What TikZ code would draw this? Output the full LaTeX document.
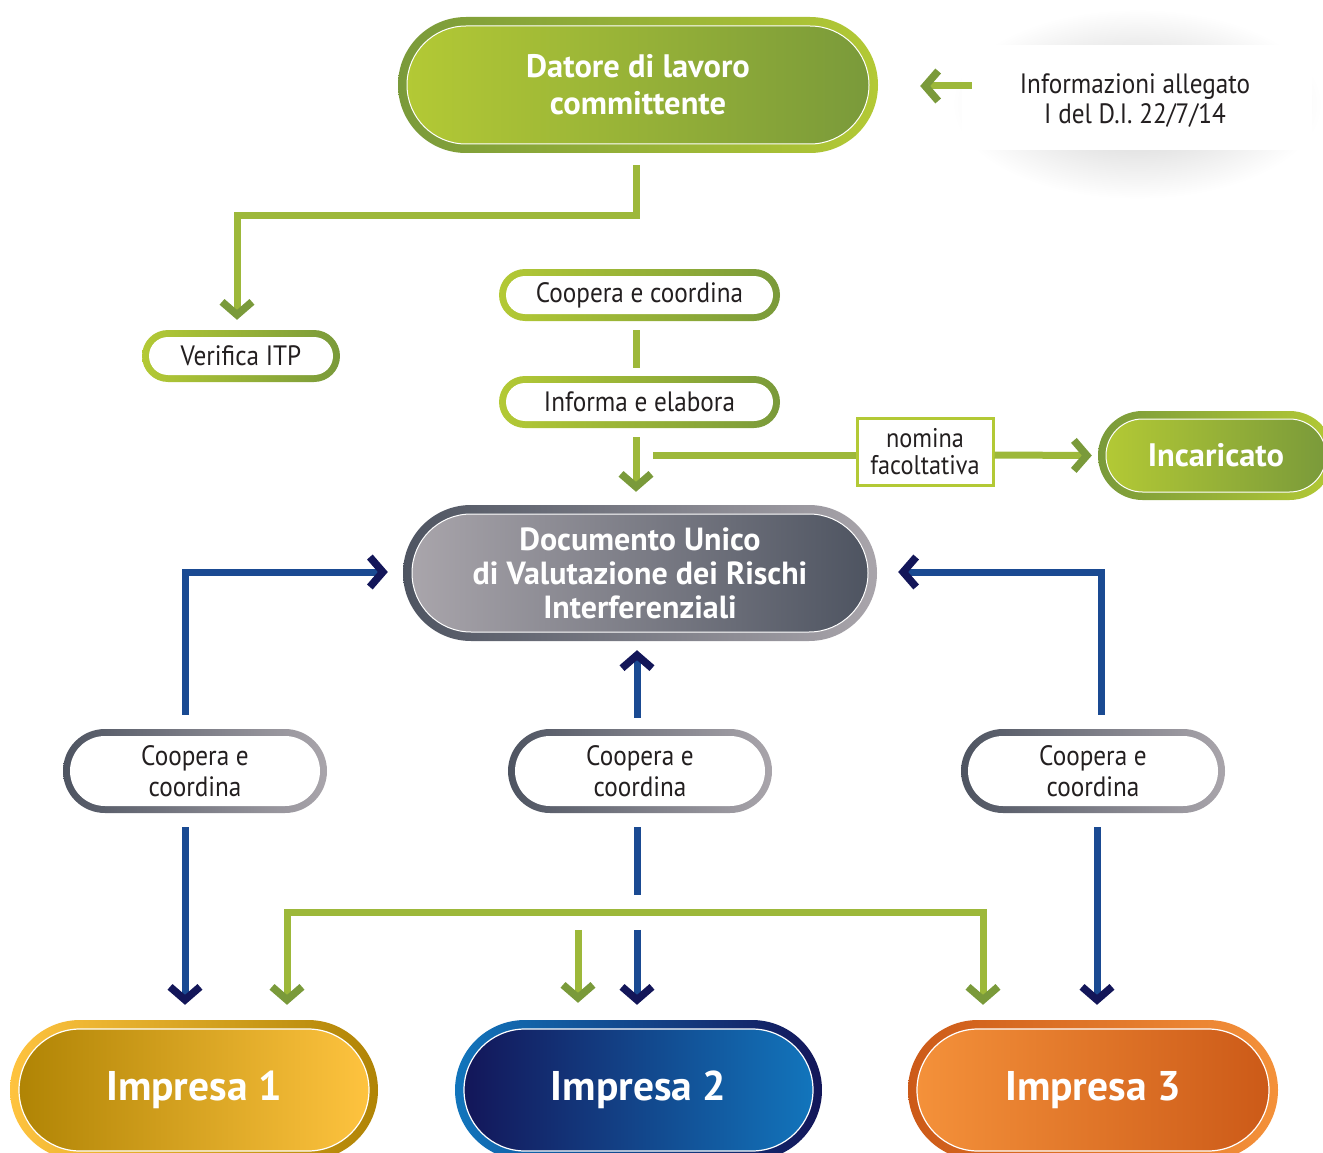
\documentclass[tikz,border=0pt]{standalone}
\usepackage{fontspec}
\setmainfont{PT Sans}
\newfontfamily\regf{PT Sans}[FakeStretch=0.9]
\usetikzlibrary{arrows.meta,shapes.misc,calc}

\definecolor{gl}{HTML}{B3C935}
\definecolor{gd}{HTML}{7A9A3A}
\definecolor{gm}{HTML}{9DB83A}
\definecolor{grl}{HTML}{A9A5AB}
\definecolor{grd}{HTML}{4E5461}
\definecolor{bl}{HTML}{1275BC}
\definecolor{bd}{HTML}{131659}
\definecolor{bm}{HTML}{1A4A92}
\definecolor{yl}{HTML}{FEC33F}
\definecolor{yd}{HTML}{B08405}
\definecolor{ol}{HTML}{F4913A}
\definecolor{od}{HTML}{CC5A18}
\definecolor{ink}{HTML}{231F20}

\tikzset{
  pill/.style={rounded rectangle, inner sep=0pt, align=center},
  boldA/.style={text=white, font=\bfseries\fontsize{32.5}{37}\selectfont},
  boldB/.style={text=white, font=\bfseries\fontsize{32}{34}\selectfont},
  boldC/.style={text=white, font=\bfseries\fontsize{41.5}{44}\selectfont},
  plaintext/.style={text=ink, font=\regf\fontsize{28}{31}\selectfont},
  green-o/.style={left color=gd, right color=gl},
  green-i/.style={left color=gl, right color=gd, draw=white, line width=1pt},
  greenline-o/.style={left color=gl, right color=gd},
  greenline-i/.style={fill=white},
  gray-o/.style={left color=grd, right color=grl},
  gray-i/.style={left color=grl, right color=grd, draw=white, line width=1pt},
  grayline-o/.style={left color=grd, right color=grl},
  grayline-i/.style={fill=white},
  gold-o/.style={left color=yl, right color=yd},
  gold-i/.style={left color=yd, right color=yl, draw=white, line width=1.2pt},
  blue-o/.style={left color=bl, right color=bd},
  blue-i/.style={left color=bd, right color=bl, draw=white, line width=1.2pt},
  orange-o/.style={left color=od, right color=ol},
  orange-i/.style={left color=ol, right color=od, draw=white, line width=1.2pt},
  gconn/.style={draw=gm, line width=7pt, line join=miter},
  bconn/.style={draw=bm, line width=7pt, line join=miter},
  garrow/.style={gconn, -{Straight Barb[length=13pt, width=30pt, line width=7.5pt, color=gd]}},
  barrow/.style={bconn, -{Straight Barb[length=13pt, width=30pt, line width=7.5pt, color=bd]}},
  gboth/.style={gconn, {Straight Barb[length=13pt, width=30pt, line width=7.5pt, color=gd]}-{Straight Barb[length=13pt, width=30pt, line width=7.5pt, color=gd]}},
  infobox/.style={rectangle, fill=white, inner sep=0pt, align=center, text=ink, font=\regf\fontsize{28}{30}\selectfont},
  nombox/.style={rectangle, draw=gl, line width=3pt, fill=white, inner sep=0pt, align=center, text=ink, font=\regf\fontsize{27}{27}\selectfont}
}

% name, position, width, height, border, palette, text style, text
\newcommand\mkpill[8]{%
  \node[pill, minimum width=#3pt, minimum height=#4pt, #6-o] (#1) at #2 {};
  \node[pill, minimum width=#3pt-2*#5pt, minimum height=#4pt-2*#5pt, #6-i, #7] (#1-in) at (#1.center) {#8};
}

\begin{document}
\begin{tikzpicture}[x=1pt, y=-1pt]
\useasboundingbox (0,0) rectangle (1323,1153);
\clip (0,0) rectangle (1323,1153);

% info box with haze
\shade[inner color=black!20, outer color=white] (1137,104) ellipse [x radius=185, y radius=95];
\node[infobox, minimum width=350pt, minimum height=105pt] (info) at (1137,97.5) {};
\node[infobox] (infotext) at (1135,100.5) {Informazioni allegato\\I del D.I. 22/7/14};

% top nodes
\mkpill{datore}{(638,85)}{480}{136}{9}{green}{boldA}{Datore di lavoro\\committente}
\mkpill{verifica}{(241,356)}{198}{52}{7}{greenline}{plaintext}{Verifica ITP}
\mkpill{coop0}{(639.5,295)}{281}{52}{7}{greenline}{plaintext}{Coopera e coordina}
\mkpill{informa}{(639.5,402)}{281}{52}{7}{greenline}{plaintext}{Informa e elabora}
\node[nombox, minimum width=136pt, minimum height=67pt] (nomina) at (925,451.5) {nomina\\facoltativa};
\mkpill{incaricato}{(1216,455.5)}{236}{89}{8}{green}{boldA}{Incaricato}

% DUVRI
\mkpill{duvri}{(640,573)}{474}{136}{9}{gray}{boldB}{Documento Unico\\di Valutazione dei Rischi\\Interferenziali}

% lower coop pills
\mkpill{coopL}{(195,771)}{264}{84}{7}{grayline}{plaintext}{Coopera e\\coordina}
\mkpill{coopC}{(640,771)}{264}{84}{7}{grayline}{plaintext}{Coopera e\\coordina}
\mkpill{coopR}{(1093,771)}{264}{84}{7}{grayline}{plaintext}{Coopera e\\coordina}

% imprese
\mkpill{imp1}{(194,1090)}{368}{140}{9}{gold}{boldC}{Impresa 1}
\mkpill{imp2}{(638.5,1090)}{367}{140}{9}{blue}{boldC}{Impresa 2}
\mkpill{imp3}{(1093,1090)}{370}{140}{9}{orange}{boldC}{Impresa 3}

% green connectors
\draw[garrow] ($(datore.south)+(-2,12)$) -- ++(0,50) -| ($(verifica.north)+(-4,-10)$);
\draw[gconn] ($(coop0.south)+(-3.5,9)$) -- ($(informa.north)+(-3.5,-8)$);
\draw[garrow] ($(informa.south)+(-3.5,9)$) -- ($(duvri.north)+(-4,-13)$);
\coordinate (nomstart) at (653,455);
\draw[gconn] (nomstart) -- (nomstart -| nomina.west);
\draw[garrow] (nomina.east |- nomstart) -- ($(incaricato.west)+(-6,0)$);
\draw[garrow] ($(info.west)+(10,-11.5)$) -- ($(datore.east)+(42,1)$);

% blue connectors
\draw[barrow] ($(coopL.north)+(-10,-14)$) |- ($(duvri.west)+(-15,-1)$);
\draw[barrow] ($(coopR.north)+(8,-14)$) |- ($(duvri.east)+(21,-1)$);
\draw[barrow] ($(coopC.north)+(-3,-11)$) -- ($(duvri.south)+(-3,9)$);
\draw[barrow] ($(coopL.south)+(-10,14)$) -- ($(imp1.north)+(-9,-15)$);
\draw[bconn] ($(coopC.south)+(-3,14)$) -- ++(0,68);
\draw[barrow] ($(imp2.north)+(-1.5,-90)$) -- ($(imp2.north)+(-1.5,-15)$);
\draw[barrow] ($(coopR.south)+(4,14)$) -- ($(imp3.north)+(4,-15)$);

% green bottom connectors
\draw[gboth] ($(imp1.north)+(93,-15)$) |- ($(imp3.north)+(-110,-107)$) -- ($(imp3.north)+(-110,-15)$);
\draw[garrow] ($(imp2.north)+(-60.5,-90)$) -- ($(imp2.north)+(-60.5,-17)$);
\end{tikzpicture}
\end{document}
